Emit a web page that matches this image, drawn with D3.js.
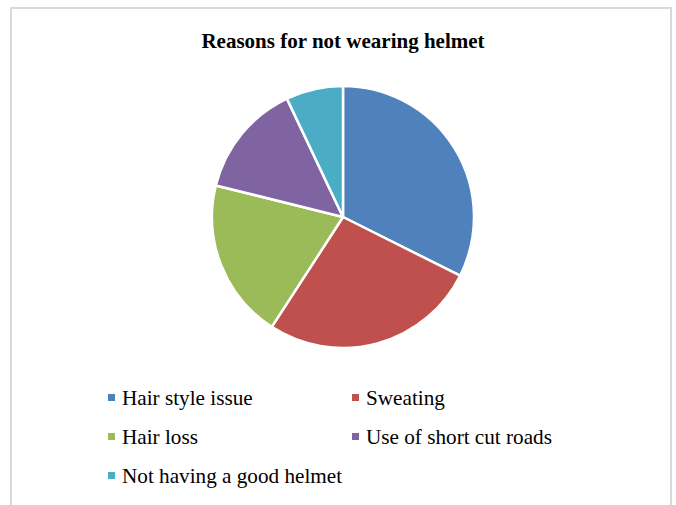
<!DOCTYPE html>
<html><head><meta charset="utf-8">
<script src="https://cdn.jsdelivr.net/npm/d3@7"></script>
<style>body{margin:0;background:#fff}svg{display:block}</style>
</head><body>
<svg id="c" width="676" height="505"></svg>
<script>
const title = "Reasons for not wearing helmet";
const categories = ["Hair style issue","Sweating","Hair loss","Use of short cut roads","Not having a good helmet"];
const values = [23,19,14,10,5];
const colors = ["#4F81BD","#C0504D","#9BBB59","#8064A2","#4BACC6"];

const svg = d3.select("#c");
svg.append("rect").attr("x",11).attr("y",8).attr("width",660).attr("height",510)
  .attr("fill","#fff").attr("stroke","#d9d9d9").attr("stroke-width",2);

svg.append("text").attr("x",343).attr("y",48).attr("text-anchor","middle")
  .attr("font-family","Liberation Serif, Times New Roman, serif").attr("font-weight","bold")
  .attr("font-size",21).attr("fill","#000").text(title);

const color = d3.scaleOrdinal().domain(categories).range(colors);
const pie = d3.pie().sort(null).value(d=>d.v);
const arc = d3.arc().innerRadius(0).outerRadius(131);
const data = categories.map((c,i)=>({c, v: values[i]}));
svg.append("g").attr("transform","translate(343,217)")
  .selectAll("path").data(pie(data)).join("path")
  .attr("d",arc).attr("fill",d=>color(d.data.c))
  .attr("stroke","#fff").attr("stroke-width",2.5).attr("stroke-linejoin","round");

const cols = [108, 352];
const rowY = [405, 444, 483];
const lg = svg.append("g");
categories.forEach((c,i)=>{
  const x = cols[i%2], y = rowY[Math.floor(i/2)];
  lg.append("rect").attr("x",x).attr("y",y-11).attr("width",7).attr("height",7).attr("fill",color(c));
  lg.append("text").attr("x",x+14).attr("y",y)
    .attr("font-family","Liberation Serif, Times New Roman, serif").attr("font-size",21.2)
    .attr("fill","#000").text(c);
});
</script>
</body></html>
